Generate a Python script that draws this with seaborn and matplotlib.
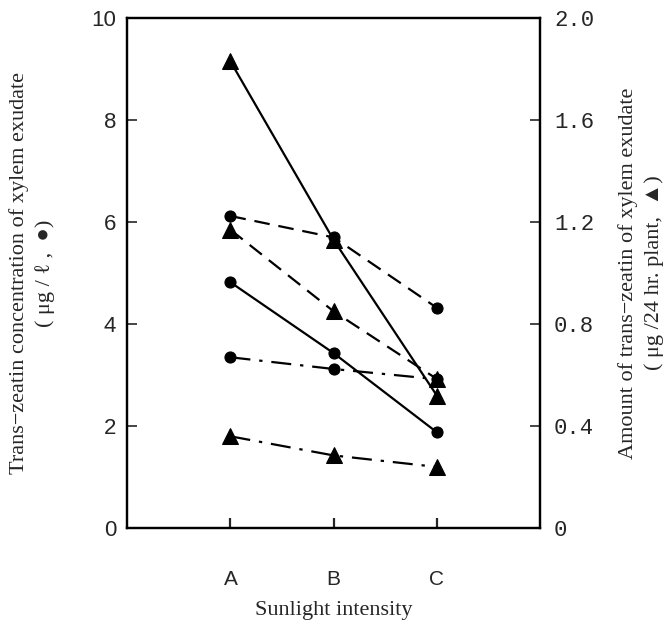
import matplotlib
matplotlib.use("Agg")
import matplotlib.pyplot as plt
import seaborn as sns
import pandas as pd

# Sunlight intensity levels
levels = ["A", "B", "C"]

# trans-zeatin concentration (ug/l), circles, left axis
conc_solid = [4.82, 3.43, 1.88]
conc_dashed = [6.12, 5.70, 4.32]
conc_dashdot = [3.35, 3.12, 2.92]

# amount of trans-zeatin (ug/24 hr. plant), triangles, right axis
amt_solid = [1.83, 1.13, 0.52]
amt_dashed = [1.17, 0.85, 0.585]
amt_dashdot = [0.36, 0.285, 0.24]

left_ticks = [0, 2, 4, 6, 8, 10]
right_ticks = [0, 0.4, 0.8, 1.2, 1.6, 2.0]
right_ticklabels = ["0", "0.4", "0.8", "1.2", "1.6", "2.0"]

_STYLES = {
    "solid": "-",
    "dashed": (0, (7, 4)),
    "dashdot": (0, (9, 4, 1.5, 4)),
}

sns.set_style("ticks")
plt.rcParams["font.family"] = ["Liberation Serif", "DejaVu Serif", "DejaVu Sans"]

fig = plt.figure(figsize=(6.7, 6.25), dpi=100)
ax = fig.add_axes([0.19, 0.155, 0.616, 0.816])
ax2 = ax.twinx()

series_left = {"solid": conc_solid, "dashed": conc_dashed, "dashdot": conc_dashdot}
series_right = {"solid": amt_solid, "dashed": amt_dashed, "dashdot": amt_dashdot}

for name, vals in series_left.items():
    df = pd.DataFrame({"level": levels, "value": vals})
    sns.lineplot(data=df, x="level", y="value", ax=ax, color="black",
                 linewidth=1.6, marker="o", markersize=8, sort=False,
                 markeredgecolor="black")
    ax.lines[-1].set_linestyle(_STYLES[name])

for name, vals in series_right.items():
    df = pd.DataFrame({"level": levels, "value": vals})
    sns.lineplot(data=df, x="level", y="value", ax=ax2, color="black",
                 linewidth=1.6, marker="^", markersize=11, sort=False,
                 markeredgecolor="black")
    ax2.lines[-1].set_linestyle(_STYLES[name])

ax.set_xlim(-1, 3)
ax.set_ylim(0, 10)
ax2.set_ylim(0, 2.0)

ax.set_yticks(left_ticks)
ax.set_yticklabels([str(t) for t in left_ticks], family="Liberation Sans", fontsize=16)
ax2.set_yticks(right_ticks)
ax2.set_yticklabels(right_ticklabels, family="Liberation Mono", fontsize=16)
ax.set_xticks(range(len(levels)))
ax.set_xticklabels(levels, family="Liberation Sans", fontsize=15)

ax.tick_params(axis="x", direction="in", length=7, width=1.6, pad=30)
ax.tick_params(axis="y", direction="in", length=7, width=1.2, pad=8)
ax2.tick_params(axis="y", direction="in", length=7, width=1.2, pad=10)

for a in (ax, ax2):
    for sp in a.spines.values():
        sp.set_visible(True)
        sp.set_linewidth(1.6)
        sp.set_color("black")

ax.set_xlabel("Sunlight intensity", fontsize=16, labelpad=9)
ax.set_ylabel("Trans\u2212zeatin concentration of xylem exudate\n( \u03bcg / \u2113 ,  \u25cf)",
              fontsize=16, linespacing=1.4, va="center")
ax.yaxis.set_label_coords(-0.23, 0.5)
ax2.set_ylabel("Amount of trans\u2212zeatin of xylem exudate\n( \u03bcg /24 hr. plant,  \u25b2)",
               fontsize=16, linespacing=1.4, rotation=90, va="center")
ax2.yaxis.set_label_coords(1.245, 0.5)

fig.savefig("out.png", dpi=100)
